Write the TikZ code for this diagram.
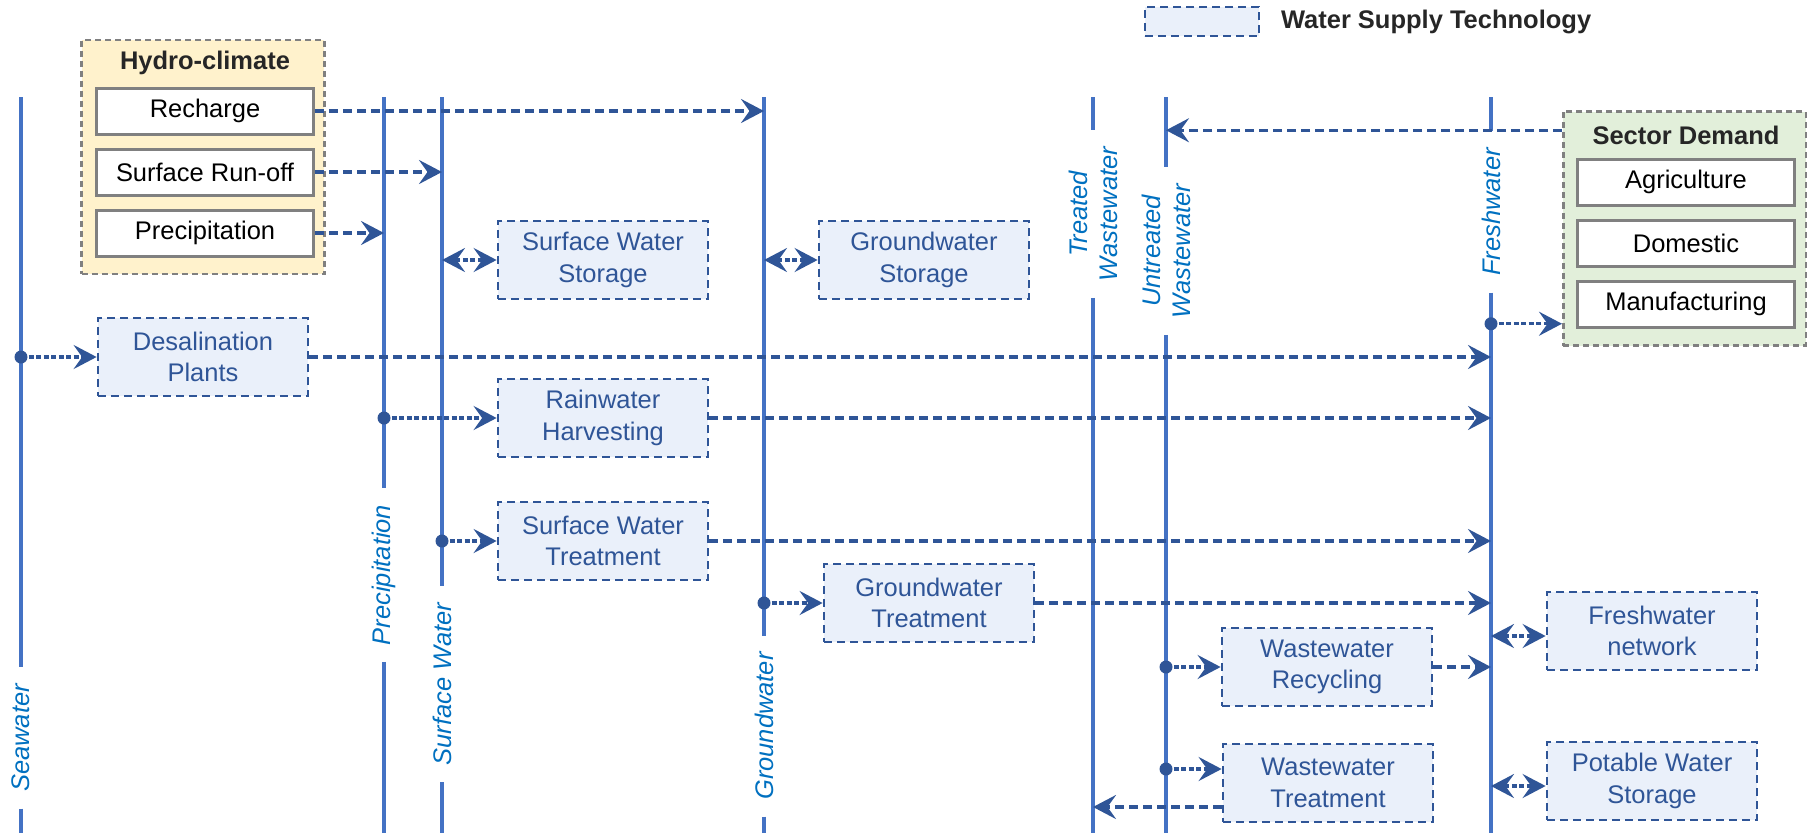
\documentclass[tikz,border=0pt]{standalone}
\usepackage{fontspec}
\setmainfont{Liberation Sans}
\usetikzlibrary{arrows.meta,positioning}

\definecolor{lineblue}{RGB}{68,114,196}
\definecolor{flowblue}{RGB}{47,85,151}
\definecolor{labelblue}{RGB}{0,112,192}
\definecolor{techfill}{RGB}{234,240,250}
\definecolor{climfill}{RGB}{255,242,204}
\definecolor{sectfill}{RGB}{226,239,218}
\definecolor{framegray}{RGB}{128,128,128}
\definecolor{titlegray}{RGB}{38,38,38}

\tikzset{
  pool/.style={line width=0.9mm, lineblue},
  poollabel/.style={rotate=90, font=\itshape\fontsize{14.5}{17}\selectfont, text=labelblue,
    align=center, inner xsep=3.3mm, inner ysep=0pt},
  tech/.style={draw=flowblue, fill=techfill, line width=0.55mm, dash pattern=on 1.6mm off 1mm,
    minimum width=42mm, minimum height=15.6mm, align=center, text=flowblue},
  group/.style={draw=framegray, line width=0.5mm, dash pattern=on 1.2mm off 0.8mm,
    minimum width=48.5mm, minimum height=46.8mm},
  grouptitle/.style={font=\bfseries\fontsize{14.5}{18}\selectfont, text=titlegray},
  item/.style={draw=framegray, fill=white, line width=0.6mm, minimum width=43.4mm, minimum height=9.2mm},
  flow/.style={->, flowblue, line width=0.65mm, dash pattern=on 1.8mm off 1mm},
  tap/.style={flow, dash pattern=on 1mm off 0.5mm},
  both/.style={tap, <->},
}

\begin{document}
\begin{tikzpicture}[x=0.2mm, y=-0.2mm, font=\fontsize{14.5}{18}\selectfont,
  >={Stealth[length=4.6mm,width=4.8mm,inset=1.7mm]}]
\useasboundingbox (0,0) rectangle (1810,835);
% Legend
\node[tech, minimum width=22.8mm, minimum height=5.8mm] (key) at (1202,21.5) {};
\node[grouptitle, right=2.9mm of key] (keytext) {Water Supply Technology};
% Hydro-climate and sector demand groups
\node[group, fill=climfill] (clim) at (203,157) {};
\node[grouptitle] (climtitle) at (205,63) {Hydro-climate};
\foreach \n/\t/\y in {rech/Recharge/111, runoff/Surface Run-off/172, precip/Precipitation/233}
  \node[item] (\n) at (205,\y) {\t};
\node[group, fill=sectfill] (dem) at (1684.5,228.5) {};
\node[grouptitle] (demtitle) at (1686,135) {Sector Demand};
\foreach \n/\t/\y in {agri/Agriculture/182, dom/Domestic/243, manu/Manufacturing/304}
  \node[item] (\n) at (1686,\y) {\t};
% Water pools: x / name / label / label centre
\foreach \x/\n/\l/\y in {21/sea/Seawater/738, 384/prec/Precipitation/575, 442/surf/Surface Water/684,
    764/gw/Groundwater/726, 1093/tww/Treated\\Wastewater/214, 1166/uww/Untreated\\Wastewater/251,
    1491/fw/Freshwater/212} {
  \coordinate (\n) at (\x,97);
  \coordinate (\n-bot) at (\x,833);
  \node[poollabel] (\n-lab) at (\x,\y) {\l};
  \draw[pool] (\n) -- (\n-lab.east);
  \draw[pool] (\n-lab.west) -- (\n-bot);
}
% Supply technologies
\foreach \n/\t/\x/\y in {desal/Desalination\\Plants/203/357, sws/Surface Water\\Storage/603/260,
    gws/Groundwater\\Storage/924/260, rain/Rainwater\\Harvesting/603/418,
    swt/Surface Water\\Treatment/603/541, gwt/Groundwater\\Treatment/929/603,
    wwr/Wastewater\\Recycling/1327/667, wwt/Wastewater\\Treatment/1328/783,
    fwn/Freshwater\\network/1652/631, pws/Potable Water\\Storage/1652/781}
  \node[tech] (\n) at (\x,\y) {\t};
% Hydro-climate inputs
\draw[flow] (rech.east) -- (gw |- rech.east);
\draw[flow] (runoff.east) -- (surf |- runoff.east);
\draw[flow] (precip.east) -- (prec |- precip.east);
% Storage exchange
\coordinate (fwnin) at ([yshift=-1mm]fwn.west);
\coordinate (pwsin) at ([yshift=-1mm]pws.west);
\draw[both] (surf |- sws.west) -- (sws.west);
\draw[both] (gw |- gws.west) -- (gws.west);
\draw[both] (fw |- fwnin) -- (fwnin);
\draw[both] (fw |- pwsin) -- (pwsin);
% Abstraction and supply to freshwater
\coordinate (wwtin) at ([yshift=2.8mm]wwt.west);
\coordinate (wwtout) at ([yshift=-4.8mm]wwt.west);
\foreach \s/\t in {sea/desal.west, prec/rain.west, surf/swt.west, gw/gwt.west, uww/wwr.west, uww/wwtin} {
  \fill[flowblue] (\s |- \t) circle (1.3mm);
  \draw[tap] (\s |- \t) -- (\t);
}
\foreach \t in {desal, rain, swt, gwt, wwr}
  \draw[flow] (\t.east) -- (fw |- \t.east);
\draw[flow] (wwtout) -- (tww |- wwtout);
% Sector demand
\coordinate (demin) at ([yshift=4.6mm]dem.south west);
\coordinate (demout) at ([yshift=-4mm]dem.north west);
\fill[flowblue] (fw |- demin) circle (1.3mm);
\draw[tap] (fw |- demin) -- (demin);
\draw[flow] (demout) -- (uww |- demout);
\end{tikzpicture}
\end{document}
